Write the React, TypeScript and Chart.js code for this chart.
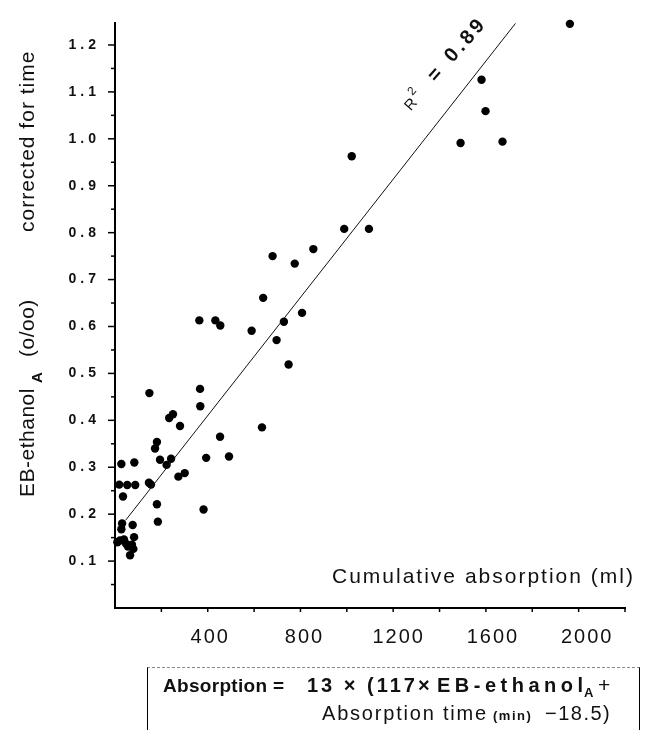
import React, { useEffect, useRef } from 'react';
import { Chart, registerables, LinearScale } from 'chart.js';

// ---- data ----
const ABSORPTION_ML = [
  1931, 1556, 1573, 1467, 1645, 1005, 973, 1078,
  358, 426, 447, 580, 669, 629, 763, 842, 794, 717, 686, 737,
  146, 361, 362, 230, 246, 276, 446, 624, 178, 170, 191, 219, 238, 387, 484, 269, 296, 144, 153, 178, 182, 376,
  27, 82, 18, 52, 86, 34, 30, 27, 75, 81,
  21, 38, 47, 55, 72, 78, 64, 10,
];
const EB_ETHANOL = [
  1.245, 1.126, 1.059, 0.991, 0.994, 0.963, 0.808, 0.808,
  0.613, 0.613, 0.602, 0.591, 0.75, 0.661, 0.734, 0.765, 0.629, 0.61, 0.571, 0.519,
  0.458, 0.467, 0.43, 0.405, 0.413, 0.388, 0.365, 0.385, 0.354, 0.34, 0.316, 0.305, 0.318, 0.32, 0.323, 0.28, 0.2875, 0.267, 0.263, 0.221, 0.184, 0.21,
  0.307, 0.31, 0.263, 0.262, 0.262, 0.2375, 0.18, 0.168, 0.177, 0.151,
  0.144, 0.146, 0.137, 0.131, 0.135, 0.126, 0.1125, 0.14,
];
const FIT_X = [45, 1700];
const FIT_Y = [0.187, 1.246];
const R2_LABEL_POS = [1256, 1.058];
const X_RANGE = [0, 2165];
const Y_RANGE = [0, 1.246];
const X_STEP = 200;
const Y_STEP = 0.05;
const X_TICK_LABELS = [400, 800, 1200, 1600, 2000];

const FONT = '"Liberation Sans", Arial, sans-serif';

class SpacedLinearScale extends LinearScale {
  drawLabels(chartArea: any) {
    const ctx = (this as any).ctx as CanvasRenderingContext2D;
    const prev = (ctx as any).letterSpacing;
    (ctx as any).letterSpacing = (this as any).axis === 'y' ? '4px' : '0px';
    super.drawLabels(chartArea);
    (ctx as any).letterSpacing = prev;
  }
}
(SpacedLinearScale as any).id = 'spacedLinear';
(SpacedLinearScale as any).defaults = (LinearScale as any).defaults;

Chart.register(...registerables, SpacedLinearScale as any);

const isMajorX = (v: number) => X_TICK_LABELS.some((m) => Math.abs(m - v) < 1);
const isMajorY = (v: number) => {
  const r = Math.round(v * 100);
  return r > 0 && r % 10 === 0;
};
const yTickLabel = (v: number) => (isMajorY(v) ? (Math.round(v * 10) / 10).toFixed(1) : '');

const overlayPlugin = {
  id: 'overlay',
  afterDraw(chart: any) {
    const ctx: CanvasRenderingContext2D = chart.ctx;
    const xs = chart.scales.x;
    const ys = chart.scales.y;
    const area = chart.chartArea;
    ctx.save();
    ctx.strokeStyle = '#000';
    ctx.lineWidth = 1.5;
    ys.ticks.forEach((t: any) => {
      if (t.value <= 0) return;
      const p = ys.getPixelForValue(t.value);
      const len = isMajorY(t.value) ? 7 : 4;
      ctx.beginPath();
      ctx.moveTo(area.left - len, p);
      ctx.lineTo(area.left, p);
      ctx.stroke();
    });
    xs.ticks.forEach((t: any) => {
      if (t.value <= 0) return;
      const p = xs.getPixelForValue(t.value);
      const len = isMajorX(t.value) ? 7 : 4;
      ctx.beginPath();
      ctx.moveTo(p, area.bottom);
      ctx.lineTo(p, area.bottom + len);
      ctx.stroke();
    });

    ctx.fillStyle = '#111';
    ctx.textBaseline = 'alphabetic';
    ctx.textAlign = 'left';
    ctx.font = `20px ${FONT}`;
    (ctx as any).letterSpacing = '2px';
    X_TICK_LABELS.forEach((v) => {
      const p = xs.getPixelForValue(v);
      const lab = String(v);
      const w = ctx.measureText(lab).width;
      ctx.fillText(lab, p - (w - 2) / 2, area.bottom + 35);
    });

    // x-axis title (inside plot, right)
    ctx.font = `21px ${FONT}`;
    (ctx as any).letterSpacing = '2px';
    ctx.fillText('Cumulative absorption (ml)', 332, 583);

    // y-axis title
    ctx.save();
    ctx.translate(34, 0);
    ctx.rotate(-Math.PI / 2);
    ctx.font = `21px ${FONT}`;
    (ctx as any).letterSpacing = '0.5px';
    ctx.fillText('EB-ethanol', -497, 0);
    ctx.font = `bold 15px ${FONT}`;
    (ctx as any).letterSpacing = '0px';
    ctx.fillText('A', -383, 8);
    ctx.font = `21px ${FONT}`;
    (ctx as any).letterSpacing = '0.5px';
    ctx.fillText('(o/oo)', -357, 0);
    (ctx as any).letterSpacing = '1px';
    ctx.fillText('corrected for time', -232, 0);
    ctx.restore();

    // R^2 label along the fit line
    const ax = xs.getPixelForValue(R2_LABEL_POS[0]);
    const ay = ys.getPixelForValue(R2_LABEL_POS[1]);
    ctx.save();
    ctx.translate(ax, ay);
    ctx.rotate((-49 * Math.PI) / 180);
    (ctx as any).letterSpacing = '0px';
    ctx.font = `15px ${FONT}`;
    ctx.fillText('R', 0, 0);
    ctx.font = `12px ${FONT}`;
    ctx.fillText('2', 13, -9);
    ctx.font = `bold 20px ${FONT}`;
    ctx.fillText('=', 38, 0);
    (ctx as any).letterSpacing = '3.5px';
    ctx.fillText('0.89', 64, 0);
    ctx.restore();

    ctx.restore();
  },
};

function Txt(props: { left: number; base: number; size: number; weight?: any; sp?: number; children: any }) {
  const { left, base, size, weight = 'normal', sp = 0, children } = props;
  return (
    <span
      style={{
        position: 'absolute',
        left,
        top: base - 0.8465 * size,
        fontFamily: FONT,
        fontSize: size,
        fontWeight: weight,
        letterSpacing: sp,
        lineHeight: 1,
        whiteSpace: 'pre',
        color: '#111',
      }}
    >
      {children}
    </span>
  );
}

export default function App() {
  const canvasRef = useRef<HTMLCanvasElement | null>(null);

  useEffect(() => {
    if (!canvasRef.current) return;
    const points = ABSORPTION_ML.map((x, i) => ({ x, y: EB_ETHANOL[i] }));
    const fit = FIT_X.map((x, i) => ({ x, y: FIT_Y[i] }));
    const chart = new Chart(canvasRef.current, {
      type: 'scatter',
      data: {
        datasets: [
          {
            type: 'line',
            data: fit,
            borderColor: '#111',
            borderWidth: 1,
            pointRadius: 0,
            fill: false,
            tension: 0,
            clip: false,
          } as any,
          {
            data: points,
            backgroundColor: '#000',
            borderWidth: 0,
            pointRadius: 4.2,
            clip: false,
          } as any,
        ],
      },
      options: {
        animation: false,
        responsive: false,
        devicePixelRatio: 1,
        events: [],
        layout: { padding: { top: 10, right: 26, left: 0, bottom: 0 } },
        plugins: { legend: { display: false }, tooltip: { enabled: false } },
        scales: {
          x: {
            type: 'spacedLinear' as any,
            min: X_RANGE[0],
            max: X_RANGE[1],
            grid: { display: false, drawTicks: false },
            border: { display: true, color: '#000', width: 2 },
            ticks: {
              display: false,
              stepSize: X_STEP,
              autoSkip: false,
              includeBounds: false,
              maxRotation: 0,
              minRotation: 0,
            },
            afterFit: (s: any) => {
              s.height = 122;
            },
          },
          y: {
            type: 'spacedLinear' as any,
            min: Y_RANGE[0],
            max: Y_RANGE[1],
            grid: { display: false, drawTicks: false },
            border: { display: true, color: '#000', width: 2 },
            ticks: {
              stepSize: Y_STEP,
              autoSkip: false,
              includeBounds: false,
              padding: 15,
              color: '#111',
              font: { family: FONT, size: 14, weight: 'bold' },
              callback: (v: any) => yTickLabel(Number(v)),
            },
            afterFit: (s: any) => {
              s.width = 115;
            },
          },
        } as any,
      },
      plugins: [overlayPlugin as any],
    });
    return () => chart.destroy();
  }, []);

  return (
    <div style={{ position: 'absolute', left: 0, top: 0, width: 651, height: 730, overflow: 'hidden', background: '#fff' }}>
      <canvas ref={canvasRef} width={651} height={730} style={{ position: 'absolute', left: 0, top: 0, width: 651, height: 730 }} />
      <div
        style={{
          position: 'absolute',
          left: 147,
          top: 667,
          width: 493,
          height: 70,
          borderLeft: '1.5px solid #000',
          borderRight: '1.5px solid #000',
          borderTop: '1px dashed #888',
          boxSizing: 'border-box',
        }}
      />
      <Txt left={163} base={692} size={19} weight="bold" sp={0.3}>Absorption =</Txt>
      <Txt left={307} base={692} size={20} weight="bold" sp={3}>13 × (117×</Txt>
      <Txt left={437} base={692} size={20} weight="bold" sp={4.5}>EB-ethanol</Txt>
      <Txt left={584} base={697} size={13} weight="bold">A</Txt>
      <Txt left={598} base={692} size={21}>+</Txt>
      <Txt left={322} base={720} size={20} sp={1.8}>Absorption time</Txt>
      <Txt left={493} base={720} size={13} weight="bold" sp={1.5}>(min)</Txt>
      <Txt left={545} base={720} size={20} sp={1.5}>−18.5)</Txt>
    </div>
  );
}
